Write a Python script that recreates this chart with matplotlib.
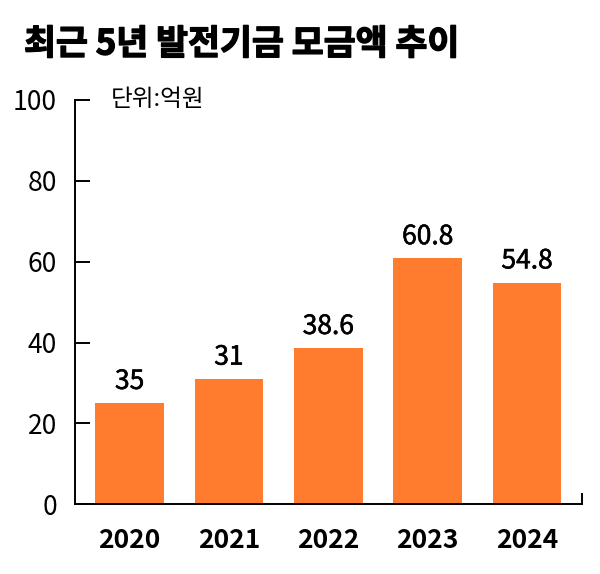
import matplotlib
matplotlib.use('Agg')
import matplotlib.pyplot as plt
import matplotlib.patheffects as pe

plt.rcParams['font.family'] = ['Noto Sans CJK KR', 'DejaVu Sans']

years = ['2020', '2021', '2022', '2023', '2024']
# bar heights as drawn in the picture (the 2020 bar is drawn lower than its label)
amounts = [25, 31, 38.6, 60.8, 54.8]
value_labels = ['35', '31', '38.6', '60.8', '54.8']
yticks = [0, 20, 40, 60, 80, 100]

title = '최근 5년 발전기금 모금액 추이'
unit = '단위:억원'

fig = plt.figure(figsize=(6, 5.74), dpi=100)
ax = fig.add_axes([0.125, 0.1214, 0.8445, 0.7044])

xs = list(range(len(years)))
bars = ax.bar(xs, amounts, width=0.69, color='#FF7B2E', zorder=1)
for b, t in zip(bars, value_labels):
    ax.annotate(t, (b.get_x() + b.get_width() / 2, b.get_height()),
                xytext=(0, 6), textcoords='offset points',
                ha='center', va='bottom', fontsize=19,
                path_effects=[pe.withStroke(linewidth=0.4, foreground='black')])

ax.set_xlim(-0.55, 4.55)
ax.set_ylim(0, 100)
ax.set_yticks(yticks)
ax.set_xticks(xs)
ax.set_xticklabels(years, fontsize=19, fontweight='bold')
ax.tick_params(axis='y', direction='in', length=11, width=1.4, pad=13, labelsize=19)
ax.tick_params(axis='x', length=0, pad=16)

ax.spines['top'].set_visible(False)
ax.spines['right'].set_bounds(0, 2.5)
for s in ['left', 'bottom', 'right']:
    ax.spines[s].set_linewidth(1.4)

fig.text(24 / 600, 1 - 44 / 574, title, fontsize=25, fontweight='bold', va='center',
         path_effects=[pe.withStroke(linewidth=1.0, foreground='black')])
fig.text(111 / 600, 1 - 99 / 574, unit, fontsize=17, va='center')

fig.savefig('out.png', dpi=100)
